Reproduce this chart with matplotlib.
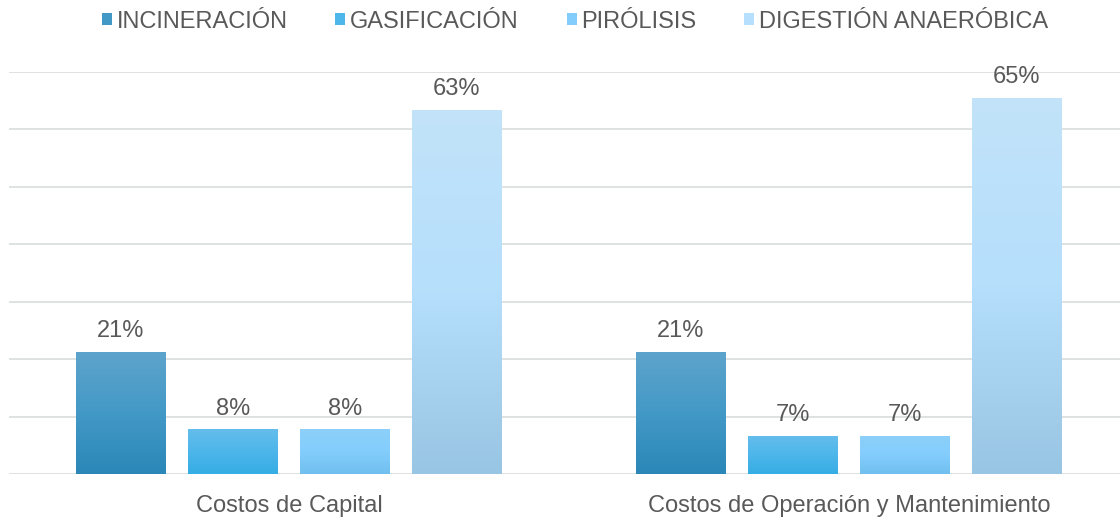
import matplotlib

matplotlib.use("Agg")

import matplotlib.pyplot as plt
import numpy as np
from matplotlib.colors import LinearSegmentedColormap
from matplotlib.patches import Patch

plt.rcParams["font.family"] = ["Liberation Sans", "DejaVu Sans"]

# datos
categorias = ["Costos de Capital", "Costos de Operación y Mantenimiento"]
series = ["INCINERACIÓN", "GASIFICACIÓN", "PIRÓLISIS", "DIGESTIÓN ANAERÓBICA"]
incineracion = [0.212, 0.212]
gasificacion = [0.077, 0.0655]
pirolisis = [0.077, 0.0655]
digestion = [0.633, 0.654]
valores = [incineracion, gasificacion, pirolisis, digestion]

# degradados (arriba, medio, abajo)
degradados = [
    ["#5DA4CC", "#4399C6", "#2A87B8"],
    ["#64BDEC", "#4DB6EA", "#35ADE5"],
    ["#8CD0FA", "#83CDFD", "#70BFEE"],
    ["#C2E3F9", "#B5DFFC", "#98C5E3"],
]
color_texto = "#595959"
color_rejilla = "#DEE3E2"

W, H, DPI = 1120, 521, 100
fig = plt.figure(figsize=(W / DPI, H / DPI), dpi=DPI)
ax = fig.add_axes([9 / W, (H - 474) / H, (W - 9) / W, (474 - 72) / H])

ancho = 90 / 560
desplaz = [-0.3, -0.1, 0.1, 0.3]
x = np.arange(len(categorias))

for i, (vals, cols) in enumerate(zip(valores, degradados)):
    cmap = LinearSegmentedColormap.from_list(f"g{i}", cols[::-1])
    grad = np.linspace(0, 1, 256).reshape(-1, 1)
    for xi, v in zip(x, vals):
        x0 = xi + desplaz[i] - ancho / 2
        ax.imshow(grad, extent=[x0, x0 + ancho, 0, v], origin="lower",
                  aspect="auto", cmap=cmap, zorder=3, interpolation="bilinear")
        ax.annotate(f"{v:.0%}", (xi + desplaz[i], v), xytext=(0, 11),
                    textcoords="offset points", ha="center", va="baseline",
                    fontsize=17, color=color_texto, annotation_clip=False)

ax.set_xlim(-0.5, -0.5 + (W - 9) / 560)
ax.set_ylim(0, 0.70)
ax.set_yticks(np.arange(0, 0.71, 0.1))
ax.yaxis.grid(True, color=color_rejilla, linewidth=1.4, zorder=0)
ax.set_axisbelow(True)
ax.tick_params(left=False, bottom=False, labelleft=False, labelbottom=False)
for s in ax.spines.values():
    s.set_visible(False)

for xi, cat in zip(x, categorias):
    ax.annotate(cat, (xi, 0), xycoords=("data", "axes fraction"),
                xytext=(0, -27.5), textcoords="offset points", ha="center",
                va="baseline", fontsize=17, color=color_texto,
                annotation_clip=False)

handles = [Patch(facecolor=c[1], edgecolor="none", label=s)
           for s, c in zip(series, degradados)]
fig.legend(handles=handles, loc="center", bbox_to_anchor=(575 / W, 1 - 21.5 / H),
           ncol=4, frameon=False, fontsize=17, labelcolor=color_texto,
           handlelength=0.42, handleheight=0.42, handletextpad=0.2,
           columnspacing=2.03, borderaxespad=0)

fig.savefig("out.png", dpi=DPI)
